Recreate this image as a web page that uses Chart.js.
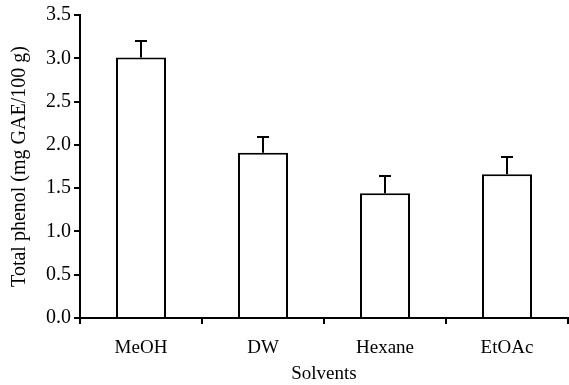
<!DOCTYPE html>
<html><head><meta charset="utf-8">
<script src="https://cdn.jsdelivr.net/npm/chart.js@4.4.0/dist/chart.umd.min.js"></script>
<style>html,body{margin:0;padding:0;background:#fff}#wrap{width:569px;height:385px}</style>
</head><body><div id="wrap"><canvas id="c"></canvas></div>
<script>
const categories = ["MeOH", "DW", "Hexane", "EtOAc"];
const values = [3.01, 1.91, 1.44, 1.66];
const errors = [0.19, 0.18, 0.20, 0.20];
const yTicks = [0, 0.5, 1.0, 1.5, 2.0, 2.5, 3.0, 3.5];

const errPlugin = {
  id: 'errbars',
  afterDatasetsDraw(chart) {
    const ctx = chart.ctx;
    const meta = chart.getDatasetMeta(0);
    const y = chart.scales.y;
    ctx.save();
    ctx.strokeStyle = '#000';
    ctx.lineWidth = 2;
    meta.data.forEach((bar, i) => {
      const x = bar.x;
      const y0 = y.getPixelForValue(values[i]);
      const y1 = y.getPixelForValue(values[i] + errors[i]);
      ctx.beginPath();
      ctx.moveTo(x, y0); ctx.lineTo(x, y1);
      ctx.moveTo(x - 6, y1); ctx.lineTo(x + 6, y1);
      ctx.stroke();
    });
    ctx.restore();
  }
};

const font = { family: '"Liberation Serif", "Times New Roman", serif', size: 19 };
const yfont = { family: '"Liberation Serif", "Times New Roman", serif', size: 20 };

new Chart(document.getElementById('c'), {
  type: 'bar',
  data: {
    labels: categories,
    datasets: [{
      data: values,
      backgroundColor: '#fff',
      borderColor: '#000',
      borderWidth: 2,
      categoryPercentage: 1.0,
      barPercentage: 0.41
    }]
  },
  options: {
    responsive: true,
    maintainAspectRatio: false,
    animation: false,
    layout: { padding: { top: 15, right: 1, left: 0, bottom: 0 } },
    plugins: { legend: { display: false }, tooltip: { enabled: false } },
    scales: {
      x: {
        grid: { display: true, drawOnChartArea: false, drawTicks: true, tickLength: 6, color: '#000', lineWidth: 2, offset: true },
        border: { display: true, color: '#000', width: 2 },
        ticks: { color: '#000', font: font, padding: 13, maxRotation: 0 },
        title: { display: true, text: 'Solvents', color: '#000', font: font, padding: { top: 2, bottom: 0 } },
        afterFit(s) { s.height = 67; }
      },
      y: {
        min: 0, max: 3.5,
        afterBuildTicks(s) { s.ticks = yTicks.map(v => ({ value: v })); },
        grid: { display: true, drawOnChartArea: false, drawTicks: true, tickLength: 6, color: '#000', lineWidth: 2 },
        border: { display: true, color: '#000', width: 2 },
        ticks: { color: '#000', font: yfont, padding: 3, callback: v => Number(v).toFixed(1) },
        title: { display: true, text: 'Total phenol (mg GAE/100 g)', color: '#000', font: yfont, padding: { top: 8, bottom: 4 } },
        afterFit(s) { s.width = 80; }
      }
    }
  },
  plugins: [errPlugin]
});
</script></body></html>
